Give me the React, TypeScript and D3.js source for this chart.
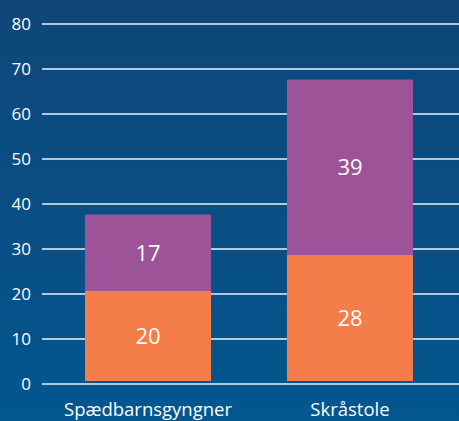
import React, { useEffect, useRef } from "react";
import * as d3 from "d3";

const categories = ["Spædbarnsgyngner", "Skråstole"];
const lowerValues = [20, 28];
const upperValues = [17, 39];
const yTicks = [0, 10, 20, 30, 40, 50, 60, 70, 80];

const App = () => {
  const ref = useRef<SVGSVGElement>(null);

  useEffect(() => {
    const width = 459,
      height = 421;
    const margin = { top: 24, right: 3, bottom: 37, left: 42 };
    const font = "'Open Sans', sans-serif";

    const svg = d3.select(ref.current);
    svg.selectAll("*").remove();

    // background gradient
    const grad = svg
      .append("defs")
      .append("linearGradient")
      .attr("id", "bg")
      .attr("x1", 0)
      .attr("y1", 0)
      .attr("x2", 0)
      .attr("y2", 1);
    grad.append("stop").attr("offset", "0%").attr("stop-color", "#0f4678");
    grad.append("stop").attr("offset", "100%").attr("stop-color", "#03568f");
    svg.append("rect").attr("width", width).attr("height", height).attr("fill", "url(#bg)");

    const x = d3
      .scaleBand()
      .domain(categories)
      .range([margin.left, width - margin.right])
      .paddingInner(0.376)
      .paddingOuter(0.213);

    const y = d3
      .scaleLinear()
      .domain([0, 80])
      .range([height - margin.bottom, margin.top]);

    // gridlines
    svg
      .append("g")
      .selectAll("line")
      .data(yTicks)
      .enter()
      .append("line")
      .attr("x1", margin.left)
      .attr("x2", width)
      .attr("y1", (d) => y(d))
      .attr("y2", (d) => y(d))
      .attr("stroke", "#eef2f7")
      .attr("stroke-width", 1.5);

    // y tick labels
    svg
      .append("g")
      .selectAll("text")
      .data(yTicks)
      .enter()
      .append("text")
      .attr("x", 31)
      .attr("y", (d) => y(d))
      .attr("dy", "0.36em")
      .attr("text-anchor", "end")
      .attr("fill", "#ffffff")
      .style("font-family", font)
      .style("font-size", "17px")
      .text((d) => d);

    const shift = -3; // bars sit slightly above the zero line
    const stacks = categories.map((c, i) => ({
      c,
      segs: [
        { y0: 0, y1: lowerValues[i], v: lowerValues[i], color: "#f47d49" },
        {
          y0: lowerValues[i],
          y1: lowerValues[i] + upperValues[i],
          v: upperValues[i],
          color: "#9c5398",
        },
      ],
    }));

    const g = svg
      .append("g")
      .attr("transform", `translate(0,${shift})`)
      .selectAll("g")
      .data(stacks)
      .enter()
      .append("g");

    g.selectAll("rect")
      .data((d) => d.segs.map((s) => ({ ...s, c: d.c })))
      .enter()
      .append("rect")
      .attr("x", (d) => x(d.c)!)
      .attr("width", x.bandwidth())
      .attr("y", (d) => y(d.y1))
      .attr("height", (d) => y(d.y0) - y(d.y1))
      .attr("fill", (d) => d.color);

    g.selectAll("text")
      .data((d) => d.segs.map((s) => ({ ...s, c: d.c })))
      .enter()
      .append("text")
      .attr("x", (d) => x(d.c)! + x.bandwidth() / 2)
      .attr("y", (d) => (y(d.y0) + y(d.y1)) / 2)
      .attr("dy", "0.36em")
      .attr("text-anchor", "middle")
      .attr("fill", "#ffffff")
      .style("font-family", font)
      .style("font-size", "22px")
      .text((d) => d.v);

    // category labels
    svg
      .append("g")
      .selectAll("text")
      .data(categories)
      .enter()
      .append("text")
      .attr("x", (d) => x(d)! + x.bandwidth() / 2)
      .attr("y", 416)
      .attr("text-anchor", "middle")
      .attr("fill", "#ffffff")
      .style("font-family", font)
      .style("font-size", "18.5px")
      .text((d) => d);
  }, []);

  return (
    <svg
      ref={ref}
      width={459}
      height={421}
      style={{ position: "absolute", left: 0, top: 0, display: "block" }}
    ></svg>
  );
};

export default App;
